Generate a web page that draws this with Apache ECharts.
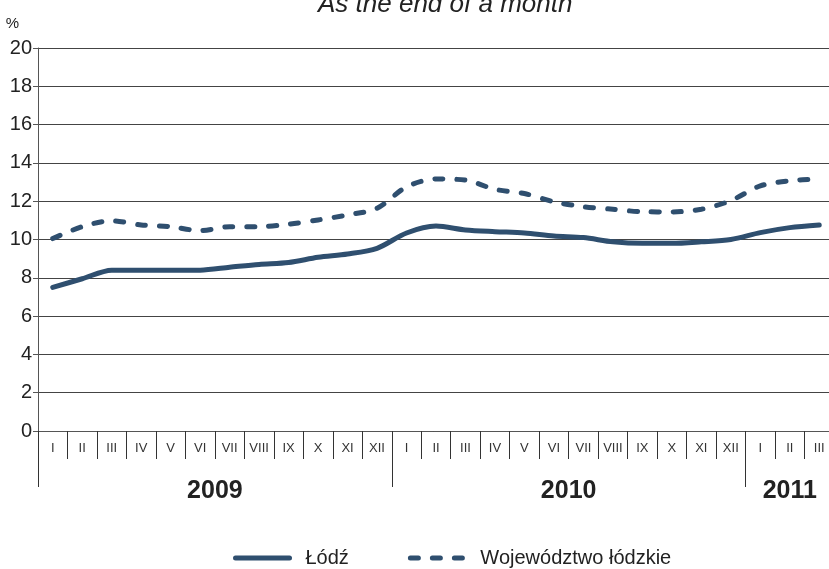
<!DOCTYPE html>
<html>
<head>
<meta charset="utf-8">
<script src="https://cdn.jsdelivr.net/npm/echarts@6/dist/echarts.min.js"></script>
<style>
  html, body { margin: 0; padding: 0; background: #fff; }
  #chart { width: 829px; height: 569px; }
</style>
</head>
<body>
<div id="chart"></div>
<script>
var months = ['I', 'II', 'III', 'IV', 'V', 'VI', 'VII', 'VIII', 'IX', 'X', 'XI', 'XII'];
var years = ['2009', '2010', '2011'];
var yearMonths = [12, 12, 3];

// stopa bezrobocia, %
var lodz = [7.5, 7.95, 8.4, 8.4, 8.4, 8.4, 8.55, 8.7, 8.8, 9.07, 9.24, 9.54,
            10.34, 10.7, 10.5, 10.41, 10.34, 10.18, 10.1, 9.88, 9.8, 9.8, 9.88, 10.0,
            10.36, 10.62, 10.76];
var woj = [10.05, 10.67, 10.98, 10.76, 10.67, 10.46, 10.67, 10.67, 10.8, 11.02, 11.28, 11.63,
           12.75, 13.16, 13.1, 12.62, 12.4, 11.97, 11.71, 11.58, 11.45, 11.44, 11.58, 12.03,
           12.8, 13.07, 13.16];

var categories = [];
var yearStarts = [], yearCenters = [];
var pos = 0;
for (var y = 0; y < years.length; y++) {
  yearStarts.push(pos);
  yearCenters.push(pos + yearMonths[y] / 2);
  for (var m = 0; m < yearMonths[y]; m++) categories.push(months[m]);
  pos += yearMonths[y];
}

var lineColor = '#2f4f6f';
var font = "'Liberation Sans', Arial, sans-serif";

var myChart = echarts.init(document.getElementById('chart'));
var option = {
  animation: false,
  title: {
    text: 'As the end of a month',
    left: 318,
    top: -8,
    padding: 0,
    textStyle: { fontFamily: font, fontStyle: 'italic', fontWeight: 'normal', fontSize: 26, color: '#222' }
  },
  legend: {
    left: 233,
    top: 548,
    padding: 0,
    itemWidth: 54,
    itemHeight: 14,
    itemGap: 59,
    itemStyle: { opacity: 0 },
    lineStyle: { width: 5 },
    textStyle: { fontFamily: font, fontSize: 20, color: '#222', padding: [0, 0, 0, 11] },
    data: ['Łódź', 'Województwo łódzkie']
  },
  grid: { left: 38, width: 796, top: 48, bottom: 138, containLabel: false, outerBoundsMode: 'none' },
  xAxis: [
    {
      type: 'category',
      data: categories,
      boundaryGap: true,
      axisLine: { lineStyle: { color: '#555', width: 1 } },
      axisTick: { show: true, interval: 0, length: 28, lineStyle: { color: '#333' } },
      axisLabel: { interval: 0, margin: 11, fontFamily: font, fontSize: 13, color: '#333' },
      splitLine: { show: false }
    },
    {
      type: 'value',
      position: 'bottom',
      min: 0,
      max: pos,
      axisLine: { show: false },
      axisTick: { show: true, customValues: yearStarts, length: 56, lineStyle: { color: '#333' } },
      axisLabel: {
        customValues: yearCenters,
        margin: 48,
        fontFamily: font,
        fontWeight: 'bold',
        fontSize: 25,
        color: '#222',
        formatter: function (v) {
          var i = yearCenters.indexOf(v);
          return i >= 0 ? years[i] : '';
        }
      },
      splitLine: { show: false }
    }
  ],
  yAxis: {
    type: 'value',
    min: 0,
    max: 20,
    interval: 2,
    name: '%',
    nameLocation: 'end',
    nameGap: 17,
    nameTextStyle: { fontFamily: font, fontSize: 15, color: '#222', align: 'right', padding: [0, 19, 0, 0] },
    axisLine: { show: true, lineStyle: { color: '#555', width: 1 } },
    axisTick: { show: true, length: 5, lineStyle: { color: '#555' } },
    axisLabel: { margin: 6, fontFamily: font, fontSize: 20, color: '#222' },
    splitLine: { show: true, lineStyle: { color: '#444', width: 1 } }
  },
  series: [
    {
      name: 'Łódź',
      type: 'line',
      data: lodz,
      symbol: 'none',
      smooth: 0.3,
      lineStyle: { color: lineColor, width: 5, cap: 'round' },
      itemStyle: { color: lineColor }
    },
    {
      name: 'Województwo łódzkie',
      type: 'line',
      data: woj,
      symbol: 'none',
      smooth: 0.3,
      lineStyle: { color: lineColor, width: 5, type: [8, 14], cap: 'round' },
      itemStyle: { color: lineColor }
    }
  ]
};
myChart.setOption(option);
</script>
</body>
</html>
